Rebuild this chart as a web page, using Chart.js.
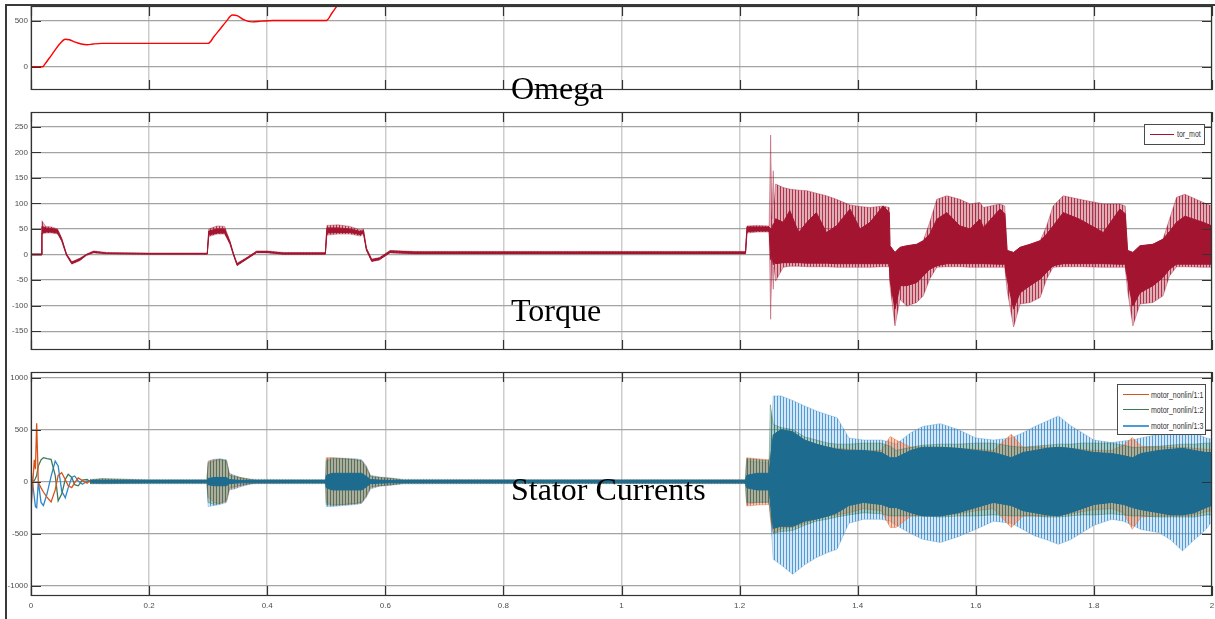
<!DOCTYPE html>
<html lang="en">
<head>
<meta charset="UTF-8" />
<title>Omega, Torque, Stator Currents</title>
<script src="https://cdn.jsdelivr.net/npm/chart.js@4.4.0/dist/chart.umd.min.js"></script>
<style>
  body { margin: 0; background: #fff; }
  #page { position: relative; width: 1215px; height: 619px; overflow: hidden; background: #fff; }
  #page canvas { position: absolute; left: 0; }
  .frame { position: absolute; left: 5px; top: 4px; width: 1210px; height: 615px;
           border-left: 2px solid #3a3a3a; border-top: 2px solid #3a3a3a; }
  .title { position: absolute; left: 511px; font-family: 'Liberation Serif', 'Times New Roman', serif;
           font-size: 32px; line-height: 32px; color: #000; white-space: nowrap; }
  .legend { position: absolute; box-sizing: border-box; background: #fff; border: 1px solid #4a4a4a;
            font-family: 'Liberation Sans', Arial, sans-serif; font-size: 9px; color: #333; }
  .legend div { position: absolute; white-space: nowrap; line-height: 12px; transform: scaleX(0.78); transform-origin: left center; }
  .legend span { position: absolute; height: 0; }
</style>
</head>
<body>
<div id="page">
  <div class="frame"></div>
  <canvas id="cOmega" width="1215" height="100" style="top:0px"></canvas>
  <canvas id="cTorque" width="1215" height="260" style="top:100px"></canvas>
  <canvas id="cCurrent" width="1215" height="259" style="top:360px"></canvas>

  <div class="title" style="top:72px">Omega</div>
  <div class="title" style="top:294px">Torque</div>
  <div class="title" style="top:473px">Stator Currents</div>

  <div class="legend" style="left:1144px; top:124px; width:61px; height:21px">
    <span style="left:5px; top:9px; width:24px; border-top:1.5px solid #A2142F"></span>
    <div style="left:32px; top:3px">tor_mot</div>
  </div>
  <div class="legend" style="left:1117px; top:384px; width:89px; height:51px">
    <span style="left:5px; top:9px; width:26px; border-top:1.5px solid #D95319"></span>
    <div style="left:33px; top:4px">motor_nonlin/1:1</div>
    <span style="left:5px; top:24px; width:26px; border-top:1.5px solid #3d7a5a"></span>
    <div style="left:33px; top:19px">motor_nonlin/1:2</div>
    <span style="left:5px; top:40px; width:26px; border-top:2px solid #4d9bd6"></span>
    <div style="left:33px; top:35px">motor_nonlin/1:3</div>
  </div>
</div>

<script>
// tick labels
const xTicks = [0, 0.2, 0.4, 0.6, 0.8, 1, 1.2, 1.4, 1.6, 1.8, 2];
const omegaTicks = [0, 500];
const torTicks = [-150, -100, -50, 0, 50, 100, 150, 200, 250];
const curTicks = [-1000, -500, 0, 500, 1000];

// Omega (speed)
const omegaT = [0, 0.02, 0.022, 0.035, 0.05, 0.058, 0.065, 0.075, 0.085, 0.095, 0.105, 0.12, 0.3, 0.31, 0.32, 0.33, 0.341, 0.35, 0.36, 0.374, 0.39, 0.41, 0.5, 0.51, 0.52, 0.54];
const omegaW = [0, 0, 15, 130, 260, 300, 295, 268, 248, 240, 248, 255, 255, 330, 410, 490, 565, 555, 515, 490, 498, 505, 505, 590, 680, 850];

// Torque: outer envelope (spikes) and dense core
const torT = [0, 0.0175, 0.0185, 0.025, 0.035, 0.045, 0.052, 0.06, 0.069, 0.083, 0.094, 0.106, 0.128, 0.2, 0.2985,
  0.301, 0.315, 0.328, 0.337, 0.343, 0.349, 0.365, 0.382, 0.4, 0.427, 0.4985,
  0.501, 0.52, 0.54, 0.558, 0.563, 0.568, 0.577, 0.59, 0.608, 0.65, 0.9, 1.21,
  1.2125, 1.23, 1.25, 1.2526, 1.2545, 1.257, 1.2585, 1.261, 1.274, 1.285, 1.3, 1.314, 1.33, 1.347, 1.364, 1.387, 1.404, 1.421, 1.443, 1.4535,
  1.4547, 1.4631, 1.4717, 1.483, 1.5, 1.511, 1.522, 1.534, 1.551, 1.573, 1.59, 1.607, 1.613, 1.641, 1.649,
  1.653, 1.664, 1.675, 1.692, 1.709, 1.72, 1.731, 1.748, 1.776, 1.816, 1.844, 1.853,
  1.857, 1.866, 1.878, 1.9, 1.917, 1.928, 1.94, 1.954, 1.985, 2.0];
const torHi = [1, 1, 66, 55, 54, 50, 32, 2, -14, -7, 1, 7, 4, 3, 3,
  50, 56, 55, 26, 2, -17, -6, 7, 7, 4, 4,
  57, 58, 55, 48, 50, 13, -9, -6, 8, 6, 6, 6,
  56, 57, 56, 234, 70, 164, 100, 138, 131, 128, 126, 125, 120, 115, 108, 97, 94, 92, 95, 92,
  17, 4, 14, 17, 20, 27, 63, 108, 115, 108, 99, 102, 92, 99, 95,
  8, 4, 14, 20, 27, 56, 95, 115, 108, 99, 99, 95,
  8, 4, 17, 20, 30, 69, 112, 118, 102, 95];
const torLo = [-1, -1, 40, 42, 42, 40, 26, -2, -19, -12, -2, 3, 1, 0, 0,
  35, 40, 40, 20, -2, -22, -10, 3, 3, 0, 0,
  38, 40, 40, 36, 40, 8, -14, -11, 3, 1, 1, 1,
  42, 44, 44, -127, -10, -68, -25, -52, -25, -23, -23, -24, -24, -24, -25, -25, -25, -25, -24, -24,
  -61, -140, -88, -101, -94, -81, -48, -25, -24, -24, -25, -25, -25, -25, -25,
  -70, -142, -97, -94, -84, -48, -25, -24, -24, -25, -25, -25,
  -70, -140, -97, -94, -81, -42, -24, -24, -25, -25];
const torCoreHi = [1, 1, 55, 52, 51, 48, 31, 1, -15, -8, 0, 6, 3, 2, 2,
  46, 50, 50, 25, 1, -18, -7, 6, 6, 3, 3,
  52, 52, 50, 45, 47, 12, -10, -7, 7, 5, 5, 5,
  54, 54, 54, 50, 50, 60, 60, 70, 63, 86, 43, 63, 82, 43, 56, 89, 50, 63, 95, 82,
  17, 4, 14, 17, 20, 27, 40, 69, 82, 56, 50, 69, 53, 89, 80,
  8, 4, 14, 20, 27, 40, 56, 82, 69, 43, 89, 80,
  8, 4, 17, 20, 30, 45, 63, 75, 63, 56];
const torCoreLo = [-1, -1, 42, 44, 44, 42, 27, -1, -18, -11, -1, 4, 2, 1, 1,
  38, 42, 42, 21, -1, -21, -9, 4, 4, 1, 1,
  42, 43, 43, 39, 42, 9, -13, -10, 4, 2, 2, 2,
  45, 46, 46, -10, 0, -20, -15, -18, -16, -16, -16, -17, -17, -17, -18, -18, -18, -18, -18, -18,
  -50, -107, -61, -61, -55, -42, -29, -22, -18, -18, -18, -18, -18, -19, -19,
  -48, -107, -75, -61, -48, -35, -22, -18, -18, -18, -19, -19,
  -48, -101, -75, -61, -45, -29, -19, -19, -19, -19];

// Stator currents: start-up transient, phases 1:1, 1:2, 1:3
const curEarlyT = [0, 0.0056, 0.0075, 0.0096, 0.0124, 0.017, 0.021, 0.027, 0.034, 0.041, 0.046, 0.052, 0.058, 0.063, 0.069, 0.074, 0.08, 0.087, 0.095, 0.1];
const curA = [-270, 210, 120, 560, -10, -60, -100, -150, -195, -80, 60, 85, 20, -40, -58, -10, 35, 10, -15, 10];
const curB = [0, 10, 30, 60, 150, 210, 230, 220, 215, 60, -185, -120, 20, 70, 40, -30, -40, 15, 20, 0];
const curC = [118, -150, -240, -250, 0, -200, -230, -120, 50, 197, 150, -90, -155, -60, 40, 54, 5, -25, 5, 0];

// Stator currents after 0.1 s: envelopes of each phase, and the dense overlap core
const curT = [0.1, 0.12, 0.2, 0.298, 0.3, 0.31, 0.32, 0.331, 0.336, 0.345, 0.355, 0.371, 0.38, 0.45, 0.499,
  0.5, 0.51, 0.53, 0.55, 0.56, 0.568, 0.575, 0.59, 0.61, 0.63, 0.8, 1.0, 1.2, 1.21,
  1.212, 1.23, 1.25, 1.252, 1.257, 1.27, 1.29, 1.31, 1.33, 1.35, 1.365, 1.385, 1.41, 1.44, 1.455, 1.465,
  1.49, 1.51, 1.54, 1.57, 1.6, 1.63, 1.66, 1.68, 1.7, 1.72, 1.74, 1.76, 1.78, 1.8, 1.83, 1.85, 1.865,
  1.88, 1.91, 1.93, 1.95, 1.97, 1.99, 2.0];
const curCHi = [22, 25, 20, 20, 200, 215, 220, 210, 80, 60, 40, 25, 22, 20, 20,
  220, 230, 225, 220, 210, 150, 60, 45, 35, 22, 20, 20, 20, 20,
  200, 190, 180, 300, 824, 824, 780, 727, 680, 640, 615, 420, 400, 400, 380, 360,
  470, 530, 557, 500, 420, 400, 420, 470, 530, 580, 631, 540, 470, 400, 375, 390, 400,
  420, 455, 470, 487, 470, 420, 407];
const curCLo = [-22, -20, -20, -20, -240, -230, -220, -200, -80, -70, -50, -25, -20, -20, -20,
  -240, -240, -230, -220, -210, -150, -70, -45, -35, -22, -20, -20, -20, -20,
  -220, -200, -190, -300, -747, -800, -891, -800, -730, -680, -650, -400, -362, -362, -380, -420,
  -500, -555, -585, -530, -458, -380, -400, -460, -522, -560, -603, -560, -490, -420, -362, -380, -420,
  -460, -490, -560, -666, -560, -458, -379];
const curCoreHi = [12, 12, 11, 11, 30, 40, 40, 40, 20, 15, 12, 12, 11, 11, 11,
  60, 80, 80, 80, 80, 50, 20, 15, 12, 11, 11, 11, 11, 11,
  60, 80, 80, 200, 450, 500, 480, 400, 360, 330, 310, 300, 300, 280, 230, 230,
  300, 330, 330, 320, 300, 280, 230, 280, 300, 320, 330, 320, 300, 280, 270, 250, 230,
  270, 300, 310, 320, 300, 280, 280];
const curCoreLo = [-12, -12, -11, -11, -30, -40, -40, -40, -20, -15, -12, -12, -11, -11, -11,
  -60, -80, -80, -80, -80, -50, -20, -15, -12, -11, -11, -11, -11, -11,
  -60, -80, -80, -200, -450, -430, -430, -380, -360, -330, -300, -230, -200, -220, -250, -250,
  -300, -330, -330, -300, -250, -200, -230, -280, -300, -320, -330, -300, -260, -220, -200, -220, -250,
  -270, -300, -320, -320, -300, -250, -230];
const curBHi = [15, 30, 14, 14, 180, 200, 215, 200, 60, 50, 35, 20, 15, 14, 14,
  200, 220, 220, 210, 200, 130, 50, 40, 30, 15, 15, 15, 15, 15,
  220, 210, 200, 740, 550, 520, 500, 430, 400, 370, 360, 360, 370, 370, 340, 300,
  330, 350, 360, 360, 370, 370, 340, 330, 340, 350, 360, 360, 370, 370, 370, 350, 330,
  330, 340, 350, 360, 360, 370, 370];
const curBLo = [-15, -20, -14, -14, -200, -220, -210, -180, -60, -50, -35, -20, -15, -14, -14,
  -220, -230, -220, -210, -200, -130, -50, -40, -30, -15, -15, -15, -15, -15,
  -200, -200, -200, -300, -500, -480, -470, -420, -380, -360, -340, -320, -300, -310, -330, -330,
  -330, -330, -340, -330, -330, -320, -330, -330, -330, -340, -340, -330, -320, -320, -310, -320, -330,
  -330, -340, -340, -340, -340, -320, -320];
const curAHi = [15, 20, 14, 14, 190, 210, 210, 200, 70, 50, 40, 20, 15, 14, 14,
  230, 230, 220, 210, 200, 140, 50, 40, 30, 15, 15, 15, 15, 15,
  230, 220, 210, 250, 400, 420, 420, 380, 350, 330, 320, 310, 300, 300, 434, 400,
  330, 330, 330, 320, 310, 300, 455, 330, 330, 330, 330, 320, 310, 300, 300, 350, 423,
  340, 330, 330, 330, 320, 310, 310];
const curALo = [-15, -15, -14, -14, -150, -200, -210, -190, -70, -60, -40, -20, -15, -14, -14,
  -200, -220, -220, -210, -200, -140, -60, -40, -30, -15, -15, -15, -15, -15,
  -235, -225, -220, -350, -500, -450, -440, -400, -360, -330, -320, -300, -260, -280, -442, -442,
  -330, -330, -330, -310, -280, -260, -442, -330, -330, -330, -330, -310, -290, -270, -260, -300, -458,
  -340, -330, -330, -330, -320, -290, -280];

const toXY = (t, v) => t.map((x, i) => ({ x: x, y: v[i] }));

// thin vertical stripes, to give the filled envelopes the look of dense oscillation
function stripes(line, gap) {
  const c = document.createElement('canvas');
  c.width = 3; c.height = 1;
  const g = c.getContext('2d');
  g.fillStyle = gap; g.fillRect(0, 0, 3, 1);
  g.fillStyle = line; g.fillRect(0, 0, 1, 1);
  return g.createPattern(c, 'repeat');
}

function band(t, hi, lo, line, fillCol, order, width) {
  return [
    { data: toXY(t, hi), borderColor: line, backgroundColor: fillCol, borderWidth: width, fill: '+1', order: order },
    { data: toXY(t, lo), borderColor: line, borderWidth: width, fill: false, order: order }
  ];
}

// MATLAB style: box around the axes and ticks pointing inward
const frame = {
  id: 'frame',
  afterDraw(chart) {
    const { ctx, chartArea: a, scales } = chart;
    ctx.save();
    ctx.strokeStyle = '#333';
    ctx.lineWidth = 1.2;
    ctx.beginPath();
    scales.y.ticks.forEach(t => {
      const p = Math.round(scales.y.getPixelForValue(t.value)) + 0.5;
      ctx.moveTo(a.left, p); ctx.lineTo(a.left + 10, p);
      ctx.moveTo(a.right, p); ctx.lineTo(a.right - 10, p);
    });
    scales.x.ticks.forEach(t => {
      const p = Math.round(scales.x.getPixelForValue(t.value)) + 0.5;
      ctx.moveTo(p, a.top); ctx.lineTo(p, a.top + 10);
      ctx.moveTo(p, a.bottom); ctx.lineTo(p, a.bottom - 10);
    });
    ctx.stroke();
    ctx.strokeRect(a.left + 0.5, a.top + 0.5, a.width - 1, a.height - 1);
    ctx.restore();
  }
};

const tickFont = { family: "'Liberation Sans', Arial, sans-serif", size: 8 };

function makePanel(id, datasets, yMin, yMax, yTicks, showX, pad, xHeight) {
  return new Chart(document.getElementById(id), {
    type: 'line',
    data: { datasets: datasets },
    options: {
      responsive: false,
      animation: false,
      devicePixelRatio: 1,
      layout: { padding: pad },
      elements: { point: { radius: 0 }, line: { tension: 0 } },
      plugins: { legend: { display: false }, tooltip: { enabled: false } },
      scales: {
        x: {
          type: 'linear', min: 0, max: 2,
          afterBuildTicks: s => { s.ticks = xTicks.map(v => ({ value: v })); },
          afterFit: s => { s.height = xHeight; s.paddingLeft = 0; s.paddingRight = 0; },
          grid: { color: '#cdcdcd', lineWidth: 1.5, drawTicks: false },
          border: { display: false },
          ticks: { display: showX, padding: 5, color: '#4d4d4d', font: tickFont, maxRotation: 0, autoSkip: false, callback: v => String(v) }
        },
        y: {
          min: yMin, max: yMax,
          afterBuildTicks: s => { s.ticks = yTicks.map(v => ({ value: v })); },
          afterFit: s => { s.width = 31; s.paddingTop = 0; s.paddingBottom = 0; },
          grid: { color: '#a3a3a3', lineWidth: 1.2, drawTicks: false },
          border: { display: false },
          ticks: { padding: 3, color: '#4d4d4d', font: tickFont, autoSkip: false, callback: v => String(v) }
        }
      }
    },
    plugins: [frame]
  });
}

makePanel('cOmega', [
  { data: toXY(omegaT, omegaW), borderColor: '#ff0000', borderWidth: 1.4, cubicInterpolationMode: 'monotone', fill: false }
], -255, 664, omegaTicks, false, { top: 6, bottom: 10, left: 0, right: 3 }, 0);

makePanel('cTorque', [].concat(
  band(torT, torCoreHi, torCoreLo, '#A2142F', '#A2142F', 0, 1),
  band(torT, torHi, torLo, 'rgba(162,20,47,0.45)', stripes('rgba(162,20,47,0.8)', 'rgba(162,20,47,0.35)'), 1, 0.8)
), -187, 279, torTicks, false, { top: 12, bottom: 10, left: 0, right: 3 }, 0);

makePanel('cCurrent', [].concat(
  [
    { data: toXY(curEarlyT, curA), borderColor: '#D95319', borderWidth: 1.3, fill: false, order: 0 },
    { data: toXY(curEarlyT, curB), borderColor: '#3d7a5a', borderWidth: 1.3, fill: false, order: 0 },
    { data: toXY(curEarlyT, curC), borderColor: '#2b86cc', borderWidth: 1.3, fill: false, order: 0 }
  ],
  band(curT, curCoreHi, curCoreLo, '#1d6b8f', '#1d6b8f', 1, 1),
  band(curT, curBHi, curBLo, 'rgba(52,115,84,0.5)', stripes('rgba(52,115,84,0.7)', 'rgba(52,115,84,0.25)'), 2, 0.8),
  band(curT, curAHi, curALo, 'rgba(222,98,45,0.5)', stripes('rgba(222,98,45,0.75)', 'rgba(222,98,45,0.3)'), 3, 0.8),
  band(curT, curCHi, curCLo, 'rgba(72,150,208,0.45)', stripes('rgba(40,130,200,0.75)', 'rgba(110,175,225,0.3)'), 4, 0.8)
), -1100, 1054, curTicks, true, { top: 12, bottom: 0, left: 0, right: 3 }, 23);
</script>
</body>
</html>
